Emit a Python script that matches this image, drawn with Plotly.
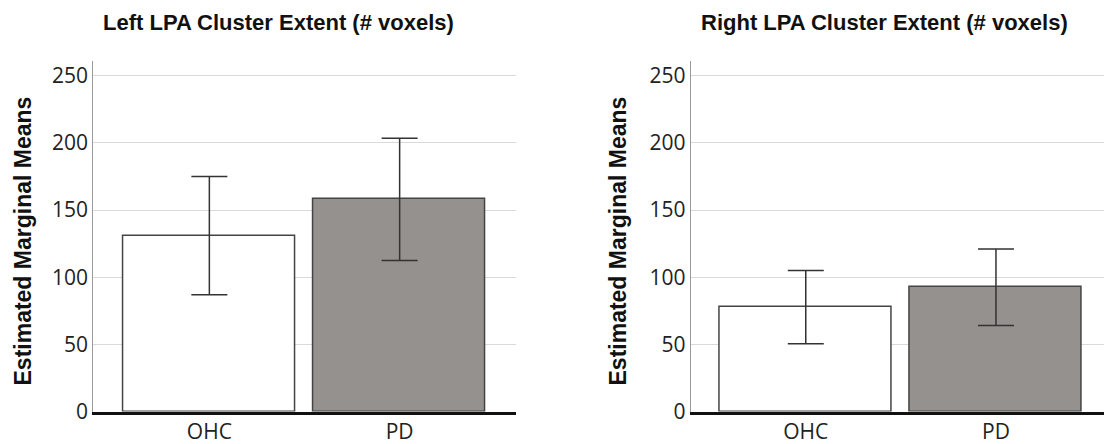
import plotly.graph_objects as go

W, H = 1104, 444

groups = ["OHC", "PD"]
left_means = [131, 158]
left_upper = [175, 203.5]
left_lower = [87, 112.5]
right_means = [78, 92.5]
right_upper = [105, 121]
right_lower = [50.5, 64]

y_ticks = [0, 50, 100, 150, 200, 250]
titles = ["Left LPA Cluster Extent (# voxels)", "Right LPA Cluster Extent (# voxels)"]
y_title = "Estimated Marginal Means"

bar_colors = ["#ffffff", "#95918f"]

fig = go.Figure()

def add_panel(means, upper, lower, xa, ya):
    fig.add_trace(go.Bar(
        x=groups, y=means, xaxis=xa, yaxis=ya, width=0.905,
        marker=dict(color=bar_colors, line=dict(color="#444444", width=1.5)),
        error_y=dict(type="data", symmetric=False,
                     array=[u - m for u, m in zip(upper, means)],
                     arrayminus=[m - l for m, l in zip(means, lower)],
                     color="#333333", thickness=1.5, width=18),
        showlegend=False, hoverinfo="skip",
    ))

add_panel(left_means, left_upper, left_lower, "x", "y")
add_panel(right_means, right_upper, right_lower, "x2", "y2")

ydom = [32.5 / H, 1 - 61 / H]
tick_font = dict(family="Open Sans", size=21, color="#222222")
common_x = dict(showline=True, linecolor="#111111", linewidth=2.5, showgrid=False,
                ticks="", tickfont=tick_font, automargin=False)
common_y = dict(range=[0, 261], tickvals=y_ticks, showline=True, linecolor="#9a9a9a",
                linewidth=1, showgrid=True, gridcolor="#d9d9d9", gridwidth=1,
                zeroline=False, ticks="", tickfont=tick_font, automargin=False)

fig.update_layout(
    width=W, height=H, margin=dict(l=0, r=0, t=0, b=0, autoexpand=False),
    plot_bgcolor="white", paper_bgcolor="white",
    xaxis=dict(domain=[93.3 / W, 515.7 / W], range=[-0.61, 1.61], anchor="y", **common_x),
    yaxis=dict(domain=ydom, anchor="x", **common_y),
    xaxis2=dict(domain=[690.7 / W, 1.0], range=[-0.605, 1.568], anchor="y2", **common_x),
    yaxis2=dict(domain=ydom, anchor="x2", **common_y),
    bargap=0,
)

title_font = dict(family="Liberation Sans, Arial", size=22, color="#111111")
ytitle_font = dict(family="Liberation Sans, Arial", size=23, color="#111111")
fig.add_annotation(text="<b>" + titles[0] + "</b>", xref="paper", yref="paper",
                   x=278 / W, y=1 - 22 / H, xanchor="center", yanchor="middle",
                   showarrow=False, font=title_font)
fig.add_annotation(text="<b>" + titles[1] + "</b>", xref="paper", yref="paper",
                   x=884 / W, y=1 - 22 / H, xanchor="center", yanchor="middle",
                   showarrow=False, font=title_font)
for xc in [22.5, 617.5]:
    fig.add_annotation(text="<b>" + y_title + "</b>", xref="paper", yref="paper",
                       x=xc / W, y=1 - 241 / H, xanchor="center", yanchor="middle",
                       textangle=-90, showarrow=False, font=ytitle_font)

fig.write_html("out.html")
